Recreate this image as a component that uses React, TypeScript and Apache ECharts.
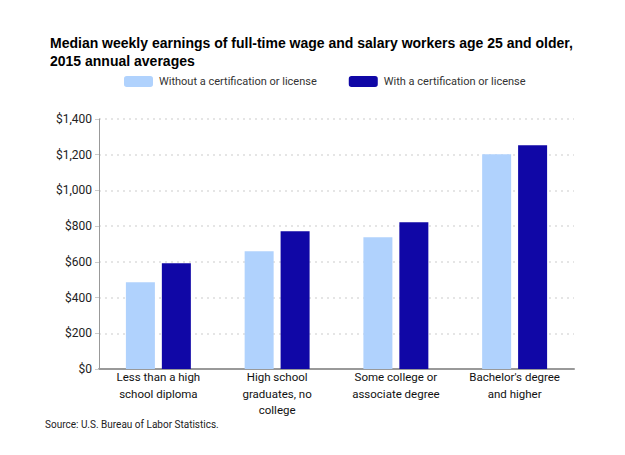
import React, { useEffect, useRef } from "react";
import * as echarts from "echarts";

const categories = [
  "Less than a high\nschool diploma",
  "High school\ngraduates, no\ncollege",
  "Some college or\nassociate degree",
  "Bachelor's degree\nand higher",
];
const withoutCert = [486, 659, 738, 1203];
const withCert = [592, 771, 822, 1253];
const seriesNames = ["Without a certification or license", "With a certification or license"];
const yTicks = [0, 200, 400, 600, 800, 1000, 1200, 1400];

const FONT = "Roboto, 'Open Sans', sans-serif";

export default function App() {
  const ref = useRef<HTMLDivElement>(null);
  useEffect(() => {
    if (!ref.current) return;
    const chart = echarts.init(ref.current, null, { renderer: "svg" });
    chart.setOption({
      animation: false,
      backgroundColor: "#ffffff",
      title: {
        text: "Median weekly earnings of full-time wage and salary workers age 25 and older,\n2015 annual averages",
        left: 45,
        top: 29,
        textStyle: {
          fontFamily: "'Liberation Sans', Arial, sans-serif",
          fontWeight: "bold",
          fontSize: 14,
          lineHeight: 18,
          color: "#000",
        },
      },
      legend: {
        left: 124,
        top: 76,
        padding: 0,
        itemWidth: 29,
        itemHeight: 11,
        itemGap: 32,
        icon: "roundRect",
        textStyle: { fontFamily: FONT, fontSize: 11, color: "#333", padding: [0, 0, 0, 1] },
        data: seriesNames,
      },
      grid: { left: 99, right: 51, top: 119, bottom: 86 },
      xAxis: {
        type: "category",
        data: categories,
        axisLine: { lineStyle: { color: "#999", width: 2 } },
        axisTick: { alignWithLabel: true, length: 4, lineStyle: { color: "#999" } },
        axisLabel: {
          fontFamily: FONT,
          fontSize: 11.5,
          lineHeight: 16.5,
          color: "#111",
          margin: 0,
          interval: 0,
        },
      },
      yAxis: {
        type: "value",
        min: 0,
        max: 1400,
        interval: 200,
        axisLine: { show: true, lineStyle: { color: "#999", width: 1 } },
        axisTick: { show: true, length: 4, lineStyle: { color: "#ccc" } },
        splitLine: { lineStyle: { color: "#ddd", type: [2, 4], width: 1.5 } },
        axisLabel: {
          fontFamily: FONT,
          fontSize: 12,
          color: "#222",
          margin: 7,
          formatter: (v: number) =>
            yTicks.includes(v) ? "$" + v.toLocaleString("en-US") : "",
        },
      },
      series: [
        {
          name: seriesNames[0],
          type: "bar",
          data: withoutCert,
          barWidth: 29,
          barGap: "24%",
          itemStyle: { color: "#b0d2fd" },
        },
        {
          name: seriesNames[1],
          type: "bar",
          data: withCert,
          barWidth: 29,
          itemStyle: { color: "#1007a6" },
        },
      ],
      graphic: [
        {
          type: "text",
          left: 45,
          top: 419,
          style: {
            text: "Source: U.S. Bureau of Labor Statistics.",
            fontFamily: FONT,
            fontSize: 10,
            fill: "#222",
          },
        },
      ],
    });
    return () => chart.dispose();
  }, []);
  return (
    <div
      ref={ref}
      style={{ position: "absolute", left: 0, top: 0, width: 625, height: 455 }}
    />
  );
}
